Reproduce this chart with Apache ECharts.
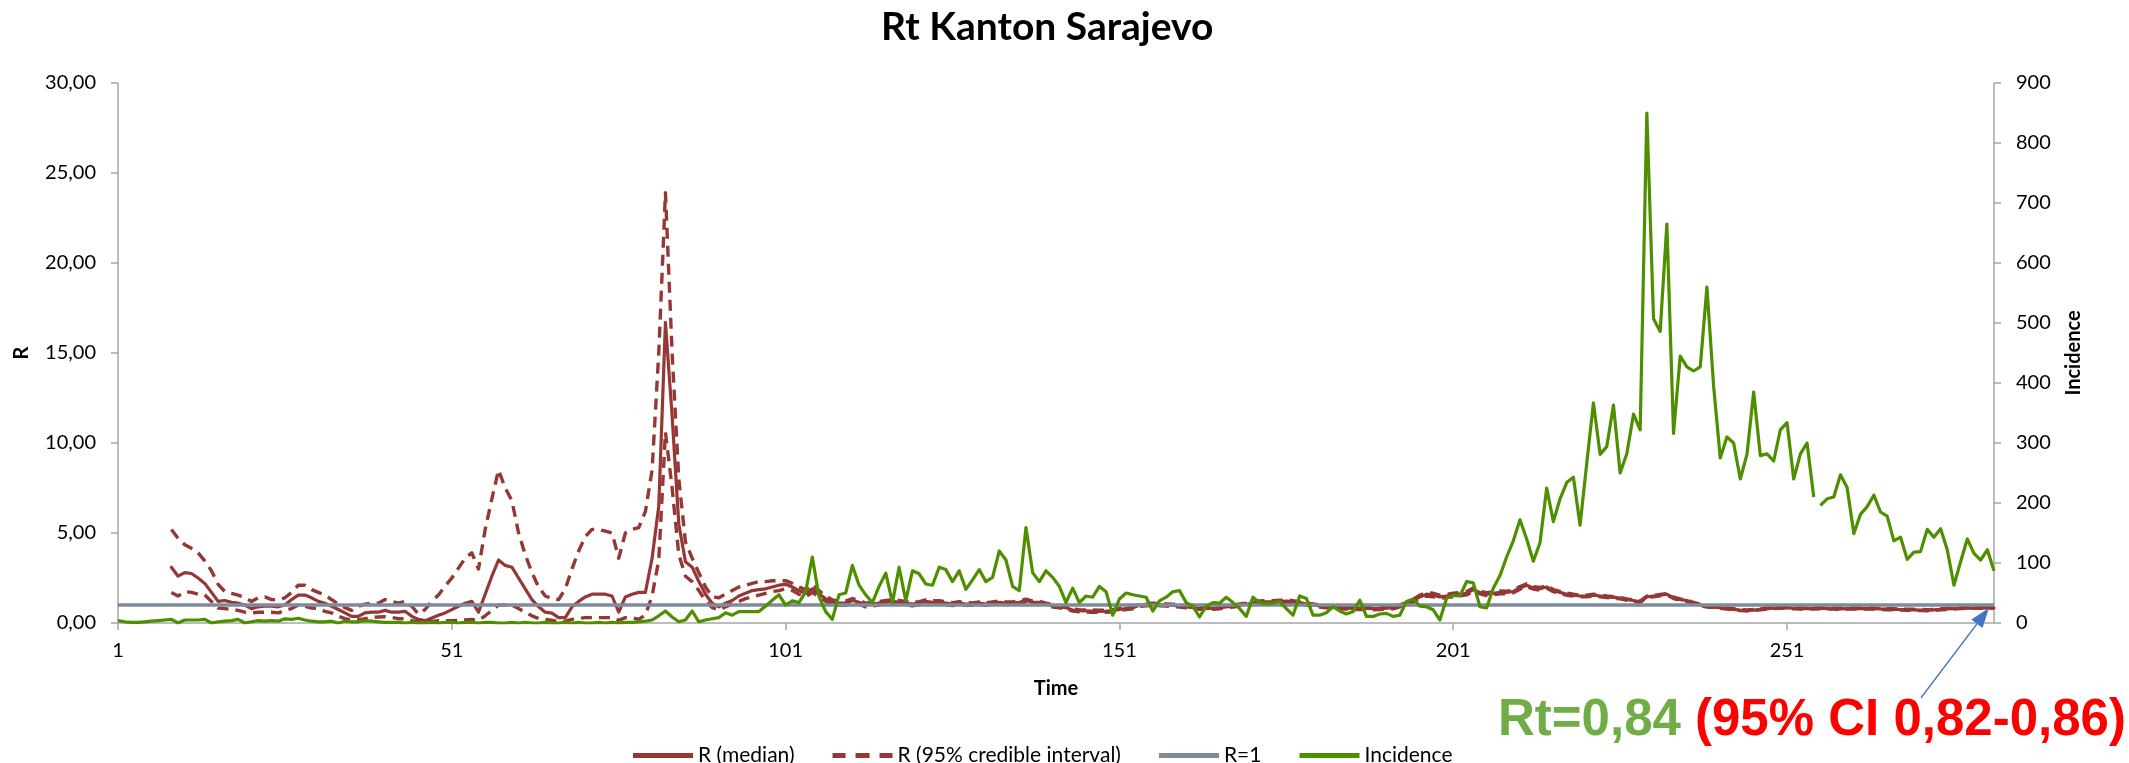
<!DOCTYPE html>
<html><head><meta charset="utf-8">
<script src="https://cdn.jsdelivr.net/npm/echarts@6/dist/echarts.min.js"></script>
<style>html,body{margin:0;padding:0;background:#fff}#c{width:2129px;height:763px}</style>
</head><body><div id="c"></div>
<script>
// ---- DATA ----
const days = Array.from({length: 282}, (_, i) => String(i + 1));
const rThreshold = 1;
const incidenceGapAfterDay = 255;

const median = [
null,null,null,null,null,null,null,null,3.1,2.6,
2.8,2.75,2.5,2.2,1.7,1.2,1.25,1.15,1.1,1.0,
0.8,0.9,0.93,0.93,0.9,1.0,1.3,1.55,1.55,1.4,
1.2,1.1,0.93,0.75,0.56,0.37,0.37,0.56,0.6,0.6,
0.7,0.6,0.6,0.65,0.37,0.2,0.13,0.28,0.43,0.56,
0.74,0.93,1.1,1.2,0.6,1.6,2.6,3.5,3.2,3.1,
2.5,1.9,1.3,0.9,0.6,0.55,0.3,0.3,0.9,1.2,
1.45,1.6,1.6,1.6,1.5,0.6,1.45,1.6,1.7,1.7,
3.6,6.5,16.7,11.5,5.5,3.4,3.1,2.3,1.6,1.1,
0.9,1.1,1.25,1.5,1.65,1.8,1.85,1.9,2.0,2.1,
2.15,2.0,1.8,1.65,1.9,1.6,1.35,1.15,1.1,1.1,
1.25,1.15,1.0,1.05,1.1,1.15,1.2,1.15,1.1,1.05,
1.1,1.2,1.15,1.15,1.1,1.05,1.1,1.05,1.05,1.1,
1.05,1.1,1.15,1.1,1.1,1.15,1.25,1.15,1.15,1.05,
0.95,0.9,0.85,0.72,0.68,0.67,0.66,0.65,0.66,0.68,
0.75,0.8,0.85,0.98,1.02,1.04,1.02,1.0,0.98,0.95,
0.9,0.85,0.82,0.8,0.82,0.85,0.9,0.95,1.0,1.04,
1.1,1.16,1.18,1.18,1.2,1.22,1.18,1.13,1.05,1.0,
0.95,0.9,0.87,0.85,0.83,0.81,0.82,0.81,0.8,0.81,
0.83,0.85,0.95,1.07,1.25,1.45,1.6,1.55,1.45,1.5,
1.55,1.6,1.65,1.85,1.7,1.6,1.65,1.7,1.7,1.75,
1.95,2.1,1.95,1.9,2.0,1.8,1.7,1.6,1.55,1.5,
1.5,1.55,1.5,1.45,1.42,1.38,1.3,1.25,1.18,1.45,
1.5,1.55,1.6,1.4,1.3,1.25,1.1,1.0,0.92,0.88,
0.85,0.8,0.76,0.72,0.7,0.72,0.76,0.8,0.83,0.85,
0.84,0.82,0.8,0.8,0.81,0.82,0.8,0.8,0.79,0.8,
0.8,0.81,0.8,0.8,0.78,0.77,0.76,0.75,0.74,0.73,
0.72,0.71,0.73,0.76,0.78,0.8,0.82,0.83,0.83,0.84,
0.84,0.84
];

const upper = [
null,null,null,null,null,null,null,null,5.2,4.7,
4.35,4.15,3.9,3.45,2.9,2.15,1.75,1.65,1.55,1.4,
1.2,1.4,1.45,1.3,1.3,1.4,1.7,2.1,2.1,1.85,
1.7,1.55,1.3,1.05,0.85,0.7,0.93,1.05,1.1,1.1,
1.3,1.2,1.1,1.2,0.93,0.5,0.75,1.2,1.55,2.05,
2.5,3.05,3.6,3.9,3.0,5.2,6.9,8.5,7.5,6.8,
5.0,3.8,2.8,2.0,1.5,1.36,1.3,1.9,3.0,4.0,
4.8,5.2,5.2,5.1,5.0,3.6,5.0,5.2,5.3,6.2,
8.5,15.0,23.9,15.0,8.0,4.5,3.6,2.8,2.0,1.45,
1.4,1.6,1.8,2.0,2.1,2.2,2.3,2.3,2.35,2.35,
2.35,2.2,2.0,1.85,2.15,1.8,1.5,1.28,1.22,1.22,
1.36,1.26,1.1,1.15,1.2,1.25,1.3,1.25,1.2,1.15,
1.19,1.29,1.24,1.24,1.18,1.13,1.18,1.13,1.12,1.17,
1.12,1.17,1.22,1.17,1.17,1.22,1.32,1.22,1.21,1.11,
1.01,0.96,0.91,0.78,0.74,0.73,0.72,0.71,0.72,0.74,
0.81,0.86,0.91,1.04,1.08,1.1,1.08,1.06,1.04,1.01,
0.96,0.91,0.88,0.86,0.88,0.91,0.96,1.01,1.06,1.1,
1.16,1.22,1.24,1.24,1.26,1.28,1.24,1.19,1.11,1.06,
1.01,0.96,0.93,0.91,0.89,0.87,0.88,0.87,0.86,0.87,
0.89,0.91,1.01,1.14,1.33,1.55,1.7,1.65,1.55,1.6,
1.65,1.7,1.74,1.95,1.79,1.68,1.73,1.78,1.77,1.82,
2.03,2.18,2.02,1.97,2.07,1.86,1.76,1.66,1.6,1.55,
1.55,1.6,1.55,1.5,1.46,1.42,1.34,1.29,1.22,1.49,
1.54,1.59,1.64,1.44,1.34,1.29,1.14,1.04,0.95,0.91,
0.88,0.83,0.79,0.75,0.73,0.75,0.79,0.83,0.86,0.88,
0.87,0.85,0.83,0.83,0.84,0.85,0.83,0.83,0.82,0.83,
0.83,0.84,0.83,0.83,0.81,0.8,0.79,0.78,0.77,0.76,
0.75,0.74,0.76,0.79,0.81,0.83,0.84,0.85,0.85,0.86,
0.86,0.86
];

const lower = [
null,null,null,null,null,null,null,null,1.7,1.5,
1.75,1.7,1.6,1.55,1.2,0.83,0.8,0.75,0.7,0.6,
0.56,0.6,0.6,0.6,0.56,0.7,0.8,1.0,0.93,0.83,
0.8,0.65,0.56,0.37,0.24,0.17,0.17,0.24,0.31,0.33,
0.35,0.31,0.24,0.24,0.13,0.06,0.06,0.09,0.13,0.13,
0.13,0.15,0.17,0.2,0.15,0.4,0.7,1.0,1.0,1.0,
0.8,0.6,0.4,0.25,0.2,0.15,0.08,0.1,0.2,0.25,
0.3,0.3,0.3,0.3,0.3,0.15,0.3,0.3,0.2,0.45,
1.5,3.5,10.6,7.5,3.8,2.6,2.3,1.8,1.25,0.85,
0.72,0.9,1.05,1.2,1.35,1.45,1.55,1.65,1.75,1.8,
1.9,1.8,1.6,1.45,1.7,1.45,1.2,1.03,0.98,0.99,
1.13,1.05,0.9,0.95,1.0,1.06,1.1,1.06,1.01,0.96,
1.01,1.11,1.07,1.07,1.02,0.97,1.02,0.98,0.98,1.03,
0.98,1.03,1.08,1.03,1.03,1.08,1.18,1.09,1.09,0.99,
0.89,0.84,0.79,0.66,0.62,0.61,0.6,0.59,0.6,0.62,
0.69,0.74,0.79,0.92,0.96,0.98,0.96,0.94,0.92,0.89,
0.84,0.79,0.76,0.74,0.76,0.79,0.84,0.89,0.94,0.98,
1.04,1.1,1.12,1.12,1.14,1.16,1.12,1.07,0.99,0.94,
0.89,0.84,0.81,0.79,0.77,0.75,0.76,0.75,0.74,0.75,
0.77,0.79,0.89,1.0,1.17,1.36,1.5,1.46,1.37,1.41,
1.46,1.51,1.56,1.76,1.62,1.52,1.57,1.62,1.63,1.68,
1.88,2.02,1.88,1.83,1.93,1.74,1.64,1.54,1.5,1.45,
1.45,1.5,1.45,1.41,1.38,1.34,1.26,1.21,1.14,1.41,
1.46,1.51,1.56,1.36,1.26,1.21,1.06,0.97,0.89,0.85,
0.82,0.77,0.73,0.69,0.67,0.69,0.73,0.77,0.8,0.82,
0.81,0.79,0.77,0.77,0.78,0.79,0.77,0.77,0.76,0.77,
0.77,0.78,0.77,0.77,0.75,0.74,0.73,0.72,0.71,0.7,
0.69,0.68,0.7,0.73,0.75,0.77,0.8,0.81,0.81,0.82,
0.82,0.82
];

const incidence = [
4,2,1,1,2,3,4,5,6,0,
5,5,5,6,0,2,3,4,6,0,
2,4,3,4,3,7,6,8,5,3,
2,2,3,0,3,2,2,4,3,2,
1,1,1,0,1,0,0,1,0,1,
1,0,1,1,0,1,1,0,0,1,
0,1,0,0,1,0,0,1,0,1,
0,0,1,0,1,0,1,1,2,3,
5,12,20,10,2,5,20,2,5,7,
9,17,13,19,19,19,19,28,38,47,
30,37,34,52,110,44,19,6,47,50,
96,63,47,34,61,83,34,93,37,87,
82,65,63,93,89,69,87,56,72,89,
69,76,120,105,61,54,159,84,69,87,
76,61,34,58,34,45,43,61,52,13,
40,50,47,45,43,20,37,43,52,54,
34,28,10,28,34,33,43,34,24,11,
43,34,32,33,36,24,13,45,41,13,
13,17,27,20,15,19,38,11,11,15,
16,11,13,36,40,28,27,22,5,41,
46,45,69,67,27,25,58,79,110,137,
172,140,103,134,225,169,207,234,243,163,
266,367,281,294,363,250,282,348,322,850,
507,486,665,316,445,427,420,427,560,395,
275,310,300,240,281,385,279,282,270,322,
334,240,282,300,210,196,207,210,247,226,
149,181,194,213,185,178,137,143,106,118,
119,156,143,157,122,63,102,140,116,105,
122,87
];

// ---- CHART ----
const FONT = 'Lato, "Open Sans", sans-serif';
const AX = '#A6A6A6';
const RED = '#953735';
const GRAYBLUE = '#7E8B9C';
const GREEN = '#4E8F00';
const comma = v => v.toFixed(2).replace('.', ',');
const SOLID_ICON = 'path://M0,0H60V5H0Z';
const DASH_ICON = 'path://M0,0H13V5H0Z M23,0H37V5H23Z M47,0H60V5H47Z';

const chart = echarts.init(document.getElementById('c'), null, {renderer: 'canvas'});
const labelEvery = idx => idx % 50 === 0;

const option = {
  animation: false,
  backgroundColor: '#ffffff',
  title: {
    text: 'Rt Kanton Sarajevo', left: 876, top: 3,
    textStyle: {fontFamily: FONT, fontWeight: 'bold', fontSize: 39, color: '#000'}
  },
  legend: {
    data: [
      {name: 'R (median)', icon: SOLID_ICON},
      {name: 'R (95% credible interval)', icon: DASH_ICON},
      {name: 'R=1', icon: SOLID_ICON},
      {name: 'Incidence', icon: SOLID_ICON}
    ],
    left: 628, top: 740, itemWidth: 60, itemHeight: 5, itemGap: 38,
    textStyle: {fontFamily: FONT, fontSize: 21, color: '#000'}
  },
  grid: {left: 118, right: 135, top: 83, bottom: 140, containLabel: false},
  xAxis: {
    type: 'category', data: days, boundaryGap: false,
    name: 'Time', nameLocation: 'middle', nameGap: 56,
    nameTextStyle: {fontFamily: FONT, fontWeight: 'bold', fontSize: 20, color: '#000'},
    axisLine: {show: true, lineStyle: {color: AX, width: 1.5}},
    axisTick: {show: true, interval: labelEvery, length: 7, lineStyle: {color: AX, width: 1.5}},
    axisLabel: {interval: labelEvery, margin: 18, fontFamily: FONT, fontSize: 20, color: '#000'},
    splitLine: {show: false}
  },
  yAxis: [
    {
      type: 'value', min: 0, max: 30, interval: 5, position: 'left',
      name: 'R', nameLocation: 'middle', nameGap: 86, nameRotate: 90,
      nameTextStyle: {fontFamily: FONT, fontWeight: 'bold', fontSize: 20, color: '#000'},
      axisLine: {show: true, lineStyle: {color: AX, width: 1.5}},
      axisTick: {show: true, length: 7, lineStyle: {color: AX, width: 1.5}},
      axisLabel: {margin: 22, fontFamily: FONT, fontSize: 20, color: '#000', formatter: comma},
      splitLine: {show: false}
    },
    {
      type: 'value', min: 0, max: 900, interval: 100, position: 'right',
      name: 'Incidence', nameLocation: 'middle', nameGap: 70, nameRotate: 90,
      nameTextStyle: {fontFamily: FONT, fontWeight: 'bold', fontSize: 20, color: '#000'},
      axisLine: {show: true, lineStyle: {color: AX, width: 1.5}},
      axisTick: {show: true, length: 7, lineStyle: {color: AX, width: 1.5}},
      axisLabel: {margin: 22, fontFamily: FONT, fontSize: 20, color: '#000'},
      splitLine: {show: false}
    }
  ],
  series: [
    {name: 'R (median)', type: 'line', yAxisIndex: 0, data: median, symbol: 'none',
     lineStyle: {color: RED, width: 3.2, cap: 'round', join: 'round'}, itemStyle: {color: RED}, z: 2},
    {name: 'R (95% credible interval)', type: 'line', yAxisIndex: 0, data: upper, symbol: 'none',
     lineStyle: {color: RED, width: 3.4, type: [11, 7], join: 'round'}, itemStyle: {color: RED}, z: 2},
    {name: 'R (95% credible interval)', type: 'line', yAxisIndex: 0, data: lower, symbol: 'none',
     lineStyle: {color: RED, width: 3.4, type: [11, 7], join: 'round'}, itemStyle: {color: RED}, z: 2},
    {name: 'R=1', type: 'line', yAxisIndex: 0, data: days.map(() => rThreshold), symbol: 'none',
     lineStyle: {color: GRAYBLUE, width: 3.5}, itemStyle: {color: GRAYBLUE}, z: 3},
    {name: 'Incidence', type: 'line', yAxisIndex: 1,
     data: incidence.map((v, i) => (i + 1 <= incidenceGapAfterDay ? v : null)), symbol: 'none',
     lineStyle: {color: GREEN, width: 3.2, join: 'round'}, itemStyle: {color: GREEN}, z: 4},
    {name: 'Incidence', type: 'line', yAxisIndex: 1,
     data: incidence.map((v, i) => (i + 1 > incidenceGapAfterDay ? v : null)), symbol: 'none',
     lineStyle: {color: GREEN, width: 3.2, join: 'round'}, itemStyle: {color: GREEN}, z: 4}
  ]
};
chart.setOption(option);

// ---- annotation: latest Rt with arrow, built from the data ----
const last = days.length - 1;
const tip = chart.convertToPixel({xAxisIndex: 0, yAxisIndex: 0}, [last, median[last]]);
const tipX = tip[0] - 5, tipY = tip[1];
const startX = tipX - 68, startY = tipY + 90;
const ang = Math.atan2(tipY - startY, tipX - startX);
const hl = 20, hw = 7;
const bx = tipX - hl * Math.cos(ang), by = tipY - hl * Math.sin(ang);
const px = -Math.sin(ang) * hw, py = Math.cos(ang) * hw;
const rtText = '{g|Rt=' + comma(median[last]) + '} {r|(95% CI ' + comma(lower[last]) + '-' + comma(upper[last]) + ')}';
const RTFONT = '"Liberation Sans", Arial, sans-serif';

chart.setOption({
  graphic: [
    {type: 'line', shape: {x1: startX, y1: startY, x2: bx, y2: by},
     style: {stroke: '#4472C4', lineWidth: 1.5}, z: 100},
    {type: 'polygon', shape: {points: [[tipX, tipY], [bx + px, by + py], [bx - px, by - py]]},
     style: {fill: '#4472C4'}, z: 100},
    {type: 'text', x: 1498, y: 721, z: 100,
     style: {text: rtText, verticalAlign: 'middle', align: 'left',
       rich: {
         g: {fontFamily: RTFONT, fontWeight: 'bold', fontSize: 51, fill: '#70AD47', color: '#70AD47'},
         r: {fontFamily: RTFONT, fontWeight: 'bold', fontSize: 51, fill: '#FF0000', color: '#FF0000'}
       },
       fontFamily: RTFONT, fontWeight: 'bold', fontSize: 51}}
  ]
});
</script></body></html>
